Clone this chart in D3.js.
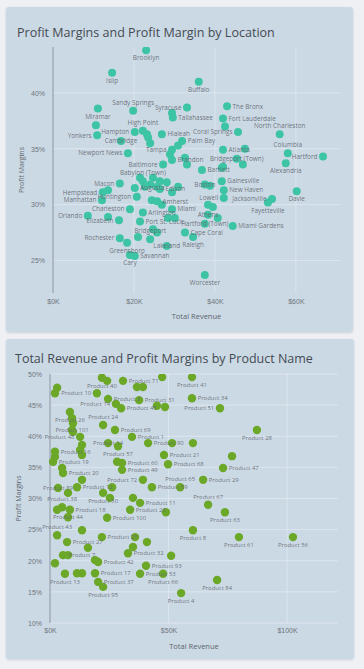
<!DOCTYPE html>
<html><head><meta charset="utf-8">
<script src="https://cdn.jsdelivr.net/npm/d3@7"></script>
<style>
html,body{margin:0;padding:0;background:#eef0f3;}
svg{display:block;font-family:"Open Sans","Noto Sans",sans-serif;}
</style></head><body>
<svg id="c" width="364" height="669"></svg>
<script>
// ---------- DATA: chart 1 (by Location) ----------
const locTitle = "Profit Margins and Profit Margin by Location";
const locNames = ["Brooklyn","Islip","Buffalo","Sandy Springs","Miramar","Syracuse","The Bronx","Tallahassee","Albany","Fort Lauderdale",
"Pembroke Pines","Yonkers","New Rochelle","High Point","Durham","Hampton","Norfolk","Cambridge","Hialeah","Coral Springs",
"North Charleston","Palm Bay","Clearwater","Richmond","Newport News","Tampa","St. Petersburg","Atlanta","Roswell","Columbia",
"Hartford","Brandon","Ocala","Sarasota","Bridgeport (Town)","Stamford","Waterbury","Alexandria","Baltimore","Bartlett",
"Norwalk","Babylon (Town)","Utica","Schenectady","Oyster Bay","Queens","Islip (Town)","Huntington (Town)","Brookhaven","Macon",
"Hempstead","Mount Vernon","Augusta","Edison","Trenton","Newark","Boston","Gainesville","Springfield","New Haven",
"Lowell","Jacksonville","Fayetteville","Davie","Amherst","Paterson","Jersey City","Huntington","Manhattan","Orlando",
"Charleston","Arlington","Miami","Miami Beach","Hollywood","Elizabeth","Chesapeake","Port St. Lucie","Wilmington","Greenville",
"Athens","Marietta","Hartford (Town)","Miami Gardens","Cape Coral","Raleigh","Bridgeport","New Britain","Stratford","Fairfield",
"Rochester","Greensboro","Lakeland","Savannah","Cary","Worcester"];
const locRevenue = [23.0,14.6,36.0,19.8,11.1,33.1,43.0,29.6,29.4,42.0,
42.5,10.9,10.6,22.2,23.2,20.2,23.5,16.8,26.9,45.7,
56.0,31.9,30.9,24.0,18.5,29.4,28.9,42.0,47.4,58.0,
66.7,29.4,32.6,33.1,45.4,46.9,42.0,57.5,27.2,36.8,
41.7,22.2,24.7,26.4,24.0,28.1,21.5,25.7,22.7,16.5,
12.3,13.6,20.2,26.4,30.9,29.4,37.5,41.7,38.8,42.2,
42.2,54.1,53.1,60.2,25.7,26.9,24.4,20.7,12.1,8.6,
19.0,22.2,29.4,30.1,28.4,16.3,13.6,21.5,38.3,39.5,
38.3,40.7,37.5,44.4,32.6,34.6,24.0,21.0,24.7,25.7,
16.5,18.3,28.1,20.2,19.0,37.5].map(v => v * 1000);
const locMargin = [43.8,41.8,41.0,38.4,38.6,38.7,38.8,37.8,38.2,37.7,
37.0,36.2,37.1,36.6,36.3,36.5,36.0,35.7,36.3,36.5,
36.3,35.7,35.3,35.5,34.6,34.9,34.5,34.9,35.0,34.6,
34.3,34.0,34.2,33.6,34.1,33.6,33.4,33.7,33.6,33.1,
33.3,32.1,32.4,32.1,31.8,32.0,32.4,31.6,31.6,31.9,
31.1,31.3,31.5,31.4,31.6,31.1,31.8,32.1,31.7,31.3,
30.6,30.5,30.2,31.2,30.3,30.0,30.4,30.7,30.4,29.0,
29.6,29.3,29.6,28.8,28.8,28.6,28.9,28.5,30.0,29.8,
29.1,28.8,28.3,28.1,27.5,27.1,26.9,27.1,27.8,27.5,
27.0,26.6,26.3,25.4,25.5,23.7];
const locXTicks = [0, 20000, 40000, 60000];
const locYTicks = [25, 30, 35, 40];

// ---------- DATA: chart 2 (by Product Name) ----------
const prodTitle = "Total Revenue and Profit Margins by Product Name";
const prodNames = ["Product 40","Product 5","Product 71","Product 6","Product 9","Product 15","Product 41","Product 22","Product 30","Product 10",
"Product 3","Product 31","Product 34","Product 74","Product 45","Product 33","Product 36","Product 51","Product 26","Product 39",
"Product 46","Product 24","Product 101","Product 52","Product 69","Product 1","Product 28","Product 48","Product 54","Product 14",
"Product 90","Product 55","Product 58","Product 16","Product 62","Product 64","Product 70","Product 57","Product 21","Product 73",
"Product 47","Product 68","Product 60","Product 75","Product 19","Product 77","Product 20","Product 49","Product 72","Product 65",
"Product 59","Product 29","Product 78","Product 12","Product 89","Product 79","Product 50","Product 80","Product 67","Product 11",
"Product 82","Product 83","Product 23","Product 85","Product 63","Product 100","Product 87","Product 38","Product 18","Product 44",
"Product 88","Product 43","Product 8","Product 61","Product 56","Product 27","Product 25","Product 91","Product 92","Product 94",
"Product 32","Product 96","Product 97","Product 7","Product 98","Product 99","Product 42","Product 2","Product 93","Product 53",
"Product 66","Product 17","Product 13","Product 35","Product 76","Product 37","Product 95","Product 4","Product 84"];
const prodRevenue = [21.9,24.1,30.8,36.7,39.2,47.3,59.9,3.0,2.1,19.8,
24.5,37.6,59.9,27.8,30.0,45.1,48.5,71.7,8.4,9.3,
9.7,22.4,9.3,9.7,27.4,34.6,87.3,12.7,13.5,24.5,
41.4,51.5,60.3,2.1,2.1,12.7,13.5,28.7,48.1,76.8,
73.0,49.8,30.4,28.3,1.3,5.1,5.5,30.4,39.2,54.9,
43.0,64.6,13.5,11.4,3.4,7.6,22.4,26.2,66.7,38.0,
35.0,25.3,33.8,48.9,73.8,24.1,3.0,5.1,8.4,7.6,
13.5,3.0,60.3,79.7,102.5,7.2,21.9,35.9,40.9,16.0,
32.9,35.0,51.1,5.5,7.6,2.1,20.3,19.0,40.5,38.0,
47.7,19.0,6.3,11.4,13.5,20.3,22.4,55.3,70.5].map(v => v * 1000);
const prodMargin = [49.4,48.9,48.9,47.9,47.9,49.5,49.5,47.8,46.9,46.9,
46.0,45.8,46.1,45.2,44.5,44.9,44.7,44.5,43.9,42.9,
42.1,41.8,41.0,40.7,41.0,39.9,41.0,39.9,38.6,38.9,
38.9,38.9,38.9,37.5,36.7,37.8,37.0,38.4,37.0,36.8,
34.9,35.5,35.7,35.9,35.9,34.9,34.1,34.6,33.0,31.8,
31.8,33.0,33.0,31.8,31.7,30.9,30.9,31.8,29.0,29.3,
30.1,30.1,28.2,27.8,27.8,26.9,28.2,28.6,28.2,27.0,
24.9,24.1,24.9,23.8,23.8,23.0,23.8,23.8,23.0,22.1,
21.2,22.2,20.8,20.9,20.9,19.6,19.8,20.1,19.2,17.9,
17.9,18.0,17.9,18.0,18.0,16.6,15.8,14.8,16.9];
const prodXTicks = [0, 50000, 100000];
const prodYTicks = [10, 15, 20, 25, 30, 35, 40, 45, 50];

// ---------- LAYOUT (label placement: b=below a=above r=right l=left c=centre) ----------
const locLabelSide = {"Brooklyn":"b","Islip":"b","Buffalo":"b","Sandy Springs":"a","Miramar":"b","Syracuse":"l","The Bronx":"r",
"Tallahassee":"r","Fort Lauderdale":"r","Yonkers":"l","High Point":"a","Hampton":"l","Cambridge":"c","Hialeah":"r",
"Coral Springs":"l","North Charleston":"a","Palm Bay":"r","Newport News":"l","Tampa":"l","Atlanta":"r","Columbia":"a",
"Hartford":"l","Brandon":"r","Bridgeport (Town)":"c","Alexandria":"b","Baltimore":"l","Bartlett":"r","Babylon (Town)":"a",
"Macon":"l","Hempstead":"l","Augusta":"r","Edison":"r","Boston":"c","Gainesville":"r","New Haven":"r","Lowell":"l",
"Jacksonville":"l","Fayetteville":"b","Davie":"b","Amherst":"r","Huntington":"l","Manhattan":"l","Orlando":"l",
"Charleston":"l","Arlington":"r","Miami":"r","Elizabeth":"l","Port St. Lucie":"r","Athens":"c","Hartford (Town)":"c",
"Miami Gardens":"r","Cape Coral":"r","Raleigh":"b","Bridgeport":"a","Rochester":"l","Greensboro":"b","Lakeland":"c",
"Savannah":"r","Cary":"b","Worcester":"b"};
const prodLabelSide = {"Product 40":"b","Product 71":"r","Product 41":"b","Product 10":"l","Product 3":"r","Product 31":"r",
"Product 34":"r","Product 74":"l","Product 45":"r","Product 51":"l","Product 26":"b","Product 24":"a","Product 101":"c",
"Product 69":"r","Product 1":"r","Product 28":"b","Product 48":"l","Product 14":"c","Product 90":"r","Product 16":"r",
"Product 57":"b","Product 21":"r","Product 47":"r","Product 68":"r","Product 60":"r","Product 19":"r","Product 20":"r",
"Product 49":"r","Product 72":"l","Product 65":"a","Product 59":"r","Product 29":"r","Product 12":"r","Product 89":"c",
"Product 50":"b","Product 67":"a","Product 11":"r","Product 23":"r","Product 63":"b","Product 100":"r","Product 38":"a",
"Product 18":"r","Product 44":"c","Product 43":"a","Product 8":"b","Product 61":"b","Product 56":"b","Product 27":"r",
"Product 25":"r","Product 32":"r","Product 7":"r","Product 42":"r","Product 93":"r","Product 53":"r","Product 66":"b",
"Product 17":"r","Product 13":"b","Product 37":"r","Product 95":"b","Product 4":"b","Product 84":"b"};

const svg = d3.select("#c");
const defs = svg.append("defs");
const f = defs.append("filter").attr("id","sh").attr("x","-5%").attr("y","-5%").attr("width","110%").attr("height","110%");
f.append("feDropShadow").attr("dx",0).attr("dy",1).attr("stdDeviation",1.2).attr("flood-color","#8a98a8").attr("flood-opacity",0.35);

function fitText(t, target, start) {
  let fs = start; t.attr("font-size", fs);
  const w = t.node().getComputedTextLength();
  fs = fs * target / w; t.attr("font-size", fs);
}

function drawChart(cfg) {
  const g = svg.append("g");
  g.append("rect").attr("x",cfg.panel[0]).attr("y",cfg.panel[1]).attr("width",cfg.panel[2]).attr("height",cfg.panel[3])
    .attr("rx",3).attr("fill","#cbd9e5").attr("filter","url(#sh)");
  const title = g.append("text").attr("x",cfg.titleX).attr("y",cfg.titleY).attr("fill","#454b52").text(cfg.title);
  fitText(title, cfg.titleW, 14);

  const x = d3.scaleLinear().domain(cfg.xDomain).range([cfg.left, cfg.right]);
  const y = d3.scaleLinear().domain(cfg.yDomain).range([cfg.bottom, cfg.top]);

  g.append("g").selectAll("line").data(cfg.yTicks).join("line")
    .attr("x1",cfg.left).attr("x2",cfg.right).attr("y1",d=>y(d)).attr("y2",d=>y(d))
    .attr("stroke","#ffffff").attr("stroke-opacity",0.35).attr("stroke-width",1);
  g.append("g").selectAll("line").data(cfg.xTicks.filter(d=>d>0)).join("line")
    .attr("x1",d=>x(d)).attr("x2",d=>x(d)).attr("y1",cfg.top).attr("y2",cfg.bottom)
    .attr("stroke","#ffffff").attr("stroke-opacity",0.3).attr("stroke-width",1);

  const ya = g.append("g").attr("transform",`translate(${cfg.left},0)`)
    .call(d3.axisLeft(y).tickValues(cfg.yTicks).tickFormat(d=>d+"%").tickSize(0).tickSizeOuter(0).tickPadding(8));
  ya.select(".domain").attr("stroke","#7d8791").attr("stroke-width",0.8).attr("d",`M0,${cfg.top}V${cfg.bottom}`);
  ya.selectAll("text").attr("font-size",7).attr("fill","#6f757b").attr("font-family",null);
  const xa = g.append("g").attr("transform",`translate(0,${cfg.bottom})`)
    .call(d3.axisBottom(x).tickValues(cfg.xTicks).tickFormat(d=>"$"+(d/1000)+"K").tickSize(0).tickPadding(cfg.xPad));
  xa.select(".domain").remove();
  xa.selectAll("text").attr("font-size",7).attr("fill","#6f757b").attr("font-family",null);

  g.append("text").attr("x",(cfg.left+cfg.right)/2).attr("y",cfg.xTitleY).attr("text-anchor","middle")
    .attr("font-size",7.5).attr("fill","#5d646b").text("Total Revenue");
  g.append("text").attr("transform",`translate(${cfg.yTitleX},${(cfg.top+cfg.bottom)/2}) rotate(-90)`)
    .attr("text-anchor","middle").attr("font-size",7).attr("fill","#5d646b").text("Profit Margins");

  const cid = "clip"+cfg.id;
  defs.append("clipPath").attr("id",cid).append("rect")
    .attr("x",cfg.left-8).attr("y",cfg.top).attr("width",cfg.right-cfg.left+16).attr("height",cfg.bottom-cfg.top+8);
  const pts = cfg.names.map((n,i)=>({n, v:cfg.xs[i], m:cfg.ys[i]}));
  const pg = g.append("g").attr("clip-path",`url(#${cid})`);
  pg.selectAll("circle").data(pts).join("circle")
    .attr("cx",d=>x(d.v)).attr("cy",d=>y(d.m)).attr("r",cfg.r).attr("fill",cfg.color);

  const fs = cfg.labelSize;
  const lab = pts.filter(d=>cfg.sides[d.n]);
  g.append("g").selectAll("text").data(lab).join("text")
    .attr("font-size",fs).attr("fill","#5f666d").attr("fill-opacity",0.9)
    .attr("x",d=>{const s=cfg.sides[d.n], cx=x(d.v); return s==="r"?cx+cfg.r+1.5:s==="l"?cx-cfg.r-1.5:cx;})
    .attr("y",d=>{const s=cfg.sides[d.n], cy=y(d.m);
      return s==="b"?cy+cfg.r+fs*0.95:s==="a"?cy-cfg.r-2:cy+fs*0.35;})
    .attr("text-anchor",d=>{const s=cfg.sides[d.n]; return s==="r"?"start":s==="l"?"end":"middle";})
    .text(d=>d.n);
}

drawChart({id:1, panel:[6,7,347,325], title:locTitle, titleX:17, titleY:36.5, titleW:258,
  xDomain:[0,70900], yDomain:[22.1,44.1], left:53, right:340, top:47, bottom:293,
  xTicks:locXTicks, yTicks:locYTicks, xPad:6, xTitleY:318.5, yTitleX:24,
  names:locNames, xs:locRevenue, ys:locMargin, sides:locLabelSide, color:"#3dc4a5", r:4, labelSize:6.4});

drawChart({id:2, panel:[6,339,348,320], title:prodTitle, titleX:15, titleY:363, titleW:298,
  xDomain:[0,121500], yDomain:[10,50], left:50, right:338, top:374, bottom:623,
  xTicks:prodXTicks, yTicks:prodYTicks, xPad:5, xTitleY:648.5, yTitleX:21,
  names:prodNames, xs:prodRevenue, ys:prodMargin, sides:prodLabelSide, color:"#6ca828", r:4.2, labelSize:5.9});
</script>
</body></html>
